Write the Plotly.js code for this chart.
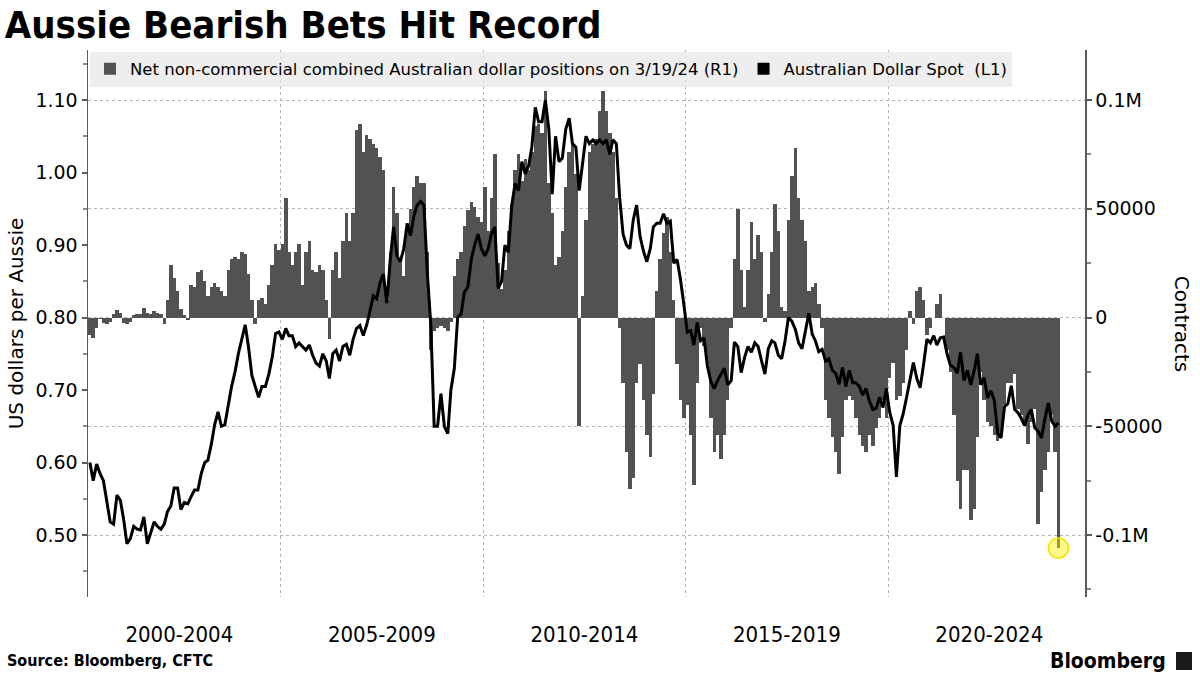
<!DOCTYPE html>
<html>
<head>
<meta charset="utf-8">
<script src="https://cdn.plot.ly/plotly-3.0.1.min.js"></script>
<style>
  html, body { margin: 0; padding: 0; background: #fff; }
  #chart { width: 1200px; height: 675px; }
</style>
</head>
<body>
<div id="chart"></div>
<script>
// monthly readings, Apr 2000 -> Mar 2024
const firstYear = 2000
const firstMonth = 4

// Australian Dollar Spot, US dollars per Aussie (L1)
const audSpot = [
  /* 2000 */ 0.600, 0.575, 0.598, 0.585, 0.575, 0.545, 0.518, 0.515, 0.555,
  /* 2001 */ 0.548, 0.520, 0.488, 0.495, 0.512, 0.508, 0.507, 0.525, 0.488, 0.503, 0.518, 0.512,
  /* 2002 */ 0.508, 0.515, 0.532, 0.540, 0.565, 0.565, 0.535, 0.545, 0.543, 0.553, 0.562, 0.562,
  /* 2003 */ 0.585, 0.600, 0.603, 0.625, 0.652, 0.670, 0.650, 0.652, 0.680, 0.705, 0.725, 0.750,
  /* 2004 */ 0.770, 0.790, 0.760, 0.720, 0.705, 0.690, 0.705, 0.705, 0.722, 0.745, 0.778, 0.780,
  /* 2005 */ 0.770, 0.785, 0.775, 0.775, 0.760, 0.765, 0.760, 0.755, 0.762, 0.748, 0.737, 0.733,
  /* 2006 */ 0.750, 0.740, 0.716, 0.750, 0.755, 0.740, 0.760, 0.763, 0.748, 0.770, 0.785, 0.789,
  /* 2007 */ 0.775, 0.790, 0.808, 0.830, 0.826, 0.848, 0.860, 0.820, 0.880, 0.925, 0.885, 0.877,
  /* 2008 */ 0.895, 0.930, 0.913, 0.940, 0.955, 0.960, 0.955, 0.860, 0.790, 0.650, 0.650, 0.695,
  /* 2009 */ 0.650, 0.640, 0.700, 0.730, 0.800, 0.805, 0.835, 0.842, 0.880, 0.900, 0.915, 0.895,
  /* 2010 */ 0.885, 0.895, 0.915, 0.925, 0.840, 0.850, 0.900, 0.890, 0.955, 0.985, 0.975, 1.015,
  /* 2011 */ 0.998, 1.010, 1.035, 1.090, 1.070, 1.070, 1.100, 1.060, 0.970, 1.050, 1.015, 1.020,
  /* 2012 */ 1.060, 1.075, 1.040, 1.035, 0.975, 1.010, 1.050, 1.040, 1.045, 1.040, 1.045, 1.040,
  /* 2013 */ 1.045, 1.025, 1.045, 1.040, 0.965, 0.915, 0.900, 0.895, 0.935, 0.955, 0.912, 0.892,
  /* 2014 */ 0.877, 0.895, 0.925, 0.930, 0.930, 0.943, 0.930, 0.933, 0.875, 0.880, 0.852, 0.818,
  /* 2015 */ 0.780, 0.782, 0.762, 0.793, 0.768, 0.772, 0.733, 0.712, 0.702, 0.713, 0.722, 0.730,
  /* 2016 */ 0.707, 0.713, 0.766, 0.760, 0.724, 0.745, 0.760, 0.752, 0.765, 0.760, 0.740, 0.722,
  /* 2017 */ 0.757, 0.768, 0.765, 0.748, 0.743, 0.768, 0.800, 0.795, 0.784, 0.765, 0.757, 0.780,
  /* 2018 */ 0.806, 0.777, 0.768, 0.753, 0.756, 0.740, 0.743, 0.727, 0.723, 0.708, 0.731, 0.705,
  /* 2019 */ 0.727, 0.710, 0.710, 0.705, 0.693, 0.702, 0.685, 0.673, 0.675, 0.690, 0.676, 0.702,
  /* 2020 */ 0.669, 0.651, 0.580, 0.651, 0.667, 0.690, 0.715, 0.738, 0.716, 0.703, 0.735, 0.770,
  /* 2021 */ 0.765, 0.775, 0.762, 0.772, 0.773, 0.750, 0.734, 0.731, 0.723, 0.752, 0.713, 0.727,
  /* 2022 */ 0.707, 0.727, 0.750, 0.707, 0.717, 0.689, 0.699, 0.686, 0.640, 0.634, 0.677, 0.681,
  /* 2023 */ 0.706, 0.673, 0.669, 0.661, 0.651, 0.666, 0.673, 0.648, 0.643, 0.634, 0.661, 0.682,
  /* 2024 */ 0.657, 0.650, 0.655
]

// Net non-commercial combined AUD positions, contracts (R1)
const netPositions = [
  /* 2000 */ -8000, -9500, -5000, -500, -2500, -3000, -2000, 1500, 3500,
  /* 2001 */ 2000, -2500, -3000, -2000, 1000, 1500, 1500, 4500, 2000, 1500, 3000, 2000,
  /* 2002 */ 1500, -3000, 8000, 24000, 18000, 12000, 4000, 1000, -1000, 15000, 14000, 21000,
  /* 2003 */ 22000, 17000, 10000, 14000, 16000, 14000, 12000, 10000, 22000, 27000, 28000, 27000,
  /* 2004 */ 30000, 29000, 20000, 8000, -3000, 8000, 9000, 6000, 15000, 24000, 34000, 31000,
  /* 2005 */ 34000, 55000, 30000, 24000, 30000, 34000, 15000, 30000, 35000, 22000, 21000, 24000,
  /* 2006 */ 22000, 8000, -10000, 22000, 30000, 18000, 35000, 48000, 35000, 48000, 86000, 89000,
  /* 2007 */ 76000, 84000, 82000, 80000, 78000, 74000, 68000, 8000, 30000, 60000, 48000, 27000,
  /* 2008 */ 19000, 40000, 50000, 60000, 65000, 62000, 62000, 30000, -15000, -6000, -5000, -4000,
  /* 2009 */ -5000, -6000, -2000, 19000, 27000, 30000, 42000, 49500, 53000, 51000, 46000, 44000,
  /* 2010 */ 60000, 40000, 55000, 75000, 25000, 13000, 22000, 40000, 52000, 68000, 75000, 63000,
  /* 2011 */ 73000, 68000, 76000, 88000, 89000, 85000, 104000, 62000, 48000, 24000, 28000, 40000,
  /* 2012 */ 60000, 76000, 80000, 66000, -50000, 10000, 45000, 76000, 80000, 82000, 95000, 104000,
  /* 2013 */ 95000, 85000, 76000, 55000, -5000, -30000, -62000, -79000, -74000, -30000, -21500, -38000,
  /* 2014 */ -54000, -64000, -35000, 12000, 27000, 39000, 46000, 30000, 8000, -21500, -38000, -46000,
  /* 2015 */ -40000, -54000, -77000, -30000, -5000, -13000, -21500, -46000, -62000, -54000, -65000, -54000,
  /* 2016 */ -38000, -5000, 27000, 50000, 22000, 5000, 22000, 44000, 27000, 38000, 30000, -2000,
  /* 2017 */ 11000, 30000, 52000, 40000, 5000, 3000, 45000, 65000, 78000, 55000, 45000, 35000,
  /* 2018 */ 12000, 14000, 16000, 6000, -5000, -38000, -46000, -55000, -62000, -72000, -55000, -38000,
  /* 2019 */ -36000, -38000, -46000, -54000, -59000, -62000, -54000, -59000, -51000, -46000, -38000, -46000,
  /* 2020 */ -28000, -21000, -38000, -36000, -30000, -15000, 3000, -3000, 12000, 14000, 8000, -8000,
  /* 2021 */ -5000, 0, 6000, 11000, 0, -15000, -25000, -45000, -75000, -88000, -70000, -70000,
  /* 2022 */ -93000, -88000, -55000, -25000, -38000, -48000, -50000, -54000, -57000, -54000, -40000, -30000,
  /* 2023 */ -30000, -26000, -42000, -45000, -50000, -58000, -48000, -42000, -95000, -80000, -70000, -62000,
  /* 2024 */ -45000, -62000, -106000
]

const periodLabels = ["2000-2004", "2005-2009", "2010-2014", "2015-2019", "2020-2024"]
const periodBreaks = ["2005-01-01", "2010-01-01", "2015-01-01", "2020-01-01"]
const contractTicks = [-100000, -50000, 0, 50000, 100000]
const contractTickText = ["-0.1M", "-50000", "0", "50000", "0.1M"]

const seriesNames = {
  positions: "Net non-commercial combined Australian dollar positions on 3/19/24 (R1)",
  spot: "Australian Dollar Spot  (L1)",
}

const monthDate = i => {
  const n = firstMonth - 1 + i
  const y = firstYear + Math.floor(n / 12)
  const m = (n % 12) + 1
  return `${y}-${String(m).padStart(2, "0")}-15`
}
const dates = netPositions.map((_, i) => monthDate(i))
const spotDates = audSpot.map((_, i) => monthDate(i))
const last = netPositions.length - 1

const xRange = ["2000-03-29", "2024-11-10"]
const labelMids = periodLabels.map(l => `${+l.slice(0, 4) + 2}-07-01`)

const DAY = 86400000
const BAR = "#525252"
const AXIS = "#5a5a5a"
const FONT = "DejaVu Sans, Verdana, sans-serif"
const NARROW = "DejaVu Sans Condensed, Liberation Sans Narrow, DejaVu Sans, sans-serif"

const traces = [
  {
    type: "bar",
    name: seriesNames.positions,
    x: dates,
    y: netPositions,
    width: 31 * DAY,
    xaxis: "x",
    yaxis: "y",
    marker: { color: BAR, line: { width: 0 } },
    hoverinfo: "skip",
  },
  {
    // legend swatch only, so the spot key shows a square like the original
    type: "bar",
    name: seriesNames.spot,
    x: [null],
    y: [null],
    xaxis: "x",
    yaxis: "y",
    marker: { color: "#000" },
    hoverinfo: "skip",
  },
  {
    type: "scatter",
    mode: "markers",
    x: [dates[last]],
    y: [netPositions[last]],
    xaxis: "x",
    yaxis: "y",
    showlegend: false,
    marker: {
      size: 20,
      color: "rgba(255,242,0,0.45)",
      line: { color: "#f2e400", width: 1.5 },
    },
    hoverinfo: "skip",
  },
  {
    type: "scatter",
    mode: "lines",
    name: seriesNames.spot,
    x: spotDates,
    y: audSpot,
    xaxis: "x2",
    yaxis: "y2",
    showlegend: false,
    line: { color: "#000", width: 3 },
    hoverinfo: "skip",
  },
]

const layout = {
  width: 1200,
  height: 675,
  margin: { l: 88, r: 115, t: 50, b: 78 },
  paper_bgcolor: "#fff",
  plot_bgcolor: "#fff",
  font: { family: FONT, color: "#000" },
  barmode: "overlay",
  bargap: 0,
  showlegend: true,
  title: {
    text: "<b>Aussie Bearish Bets Hit Record</b>",
    font: { family: NARROW, size: 38, color: "#000" },
    xref: "container",
    yref: "container",
    x: 0.004,
    xanchor: "left",
    y: 0.964,
    yanchor: "middle",
  },
  legend: {
    orientation: "h",
    x: 0.002,
    y: 0.997,
    xanchor: "left",
    yanchor: "top",
    bgcolor: "rgba(232,232,232,0.72)",
    borderwidth: 0,
    font: { family: FONT, size: 16.5, color: "#000" },
    traceorder: "normal",
  },
  xaxis: {
    type: "date",
    range: xRange,
    anchor: "y",
    tickmode: "array",
    tickvals: periodBreaks,
    showticklabels: false,
    ticks: "",
    showgrid: true,
    griddash: "dot",
    gridcolor: "#b5b5b5",
    gridwidth: 1,
    showline: false,
    zeroline: false,
  },
  xaxis2: {
    type: "date",
    range: xRange,
    overlaying: "x",
    anchor: "y2",
    side: "bottom",
    tickmode: "array",
    tickvals: labelMids,
    ticktext: periodLabels,
    ticks: "",
    ticklabelstandoff: 22,
    tickfont: { family: NARROW, size: 22, color: "#000" },
    showgrid: false,
    showline: false,
    zeroline: false,
  },
  yaxis: {
    side: "right",
    anchor: "x",
    range: [-128500, 123000],
    tickmode: "array",
    tickvals: contractTicks,
    ticktext: contractTickText,
    tickfont: { family: FONT, size: 19, color: "#000" },
    ticks: "outside",
    ticklen: 5,
    tickwidth: 2,
    tickcolor: AXIS,
    minor: { tickmode: "linear", tick0: 0, dtick: 25000, ticks: "outside", ticklen: 4, tickcolor: "#8a8a8a" },
    showline: true,
    linecolor: AXIS,
    linewidth: 1.5,
    showgrid: true,
    griddash: "dot",
    gridcolor: "#b5b5b5",
    gridwidth: 1,
    zeroline: false,
  },
  yaxis2: {
    side: "left",
    overlaying: "y",
    anchor: "x2",
    range: [0.4145, 1.1690],
    tickmode: "linear",
    tick0: 0.5,
    dtick: 0.1,
    tickformat: ".2f",
    tickfont: { family: FONT, size: 19, color: "#000" },
    ticks: "outside",
    ticklen: 5,
    tickwidth: 2,
    tickcolor: AXIS,
    minor: { tickmode: "linear", tick0: 0.45, dtick: 0.05, ticks: "outside", ticklen: 4, tickcolor: "#8a8a8a" },
    showline: true,
    linecolor: AXIS,
    linewidth: 1.5,
    showgrid: false,
    zeroline: false,
    title: { text: "US dollars per Aussie", font: { family: FONT, size: 20, color: "#000" }, standoff: 6 },
  },
  annotations: [
    {
      text: "Contracts",
      textangle: 90,
      xref: "paper",
      yref: "paper",
      x: 1.098,
      y: 0.5,
      xanchor: "center",
      yanchor: "middle",
      showarrow: false,
      font: { family: FONT, size: 20, color: "#000" },
    },
    {
      text: "<b>Source: Bloomberg, CFTC</b>",
      xref: "paper",
      yref: "paper",
      x: -0.083,
      y: -0.117,
      xanchor: "left",
      yanchor: "middle",
      showarrow: false,
      font: { family: NARROW, size: 16, color: "#000" },
    },
    {
      text: "<b>Bloomberg</b>",
      xref: "paper",
      yref: "paper",
      x: 1.0832,
      y: -0.117,
      xanchor: "right",
      yanchor: "middle",
      showarrow: false,
      font: { family: NARROW, size: 21, color: "#000" },
    },
  ],
  shapes: [
    {
      type: "rect",
      xref: "paper",
      yref: "paper",
      x0: 1.0913,
      x1: 1.1073,
      y0: -0.1335,
      y1: -0.1005,
      fillcolor: "#1a1a1a",
      line: { width: 0 },
    },
  ],
}

Plotly.newPlot("chart", traces, layout, { staticPlot: true, displayModeBar: false })
</script>
</body>
</html>
